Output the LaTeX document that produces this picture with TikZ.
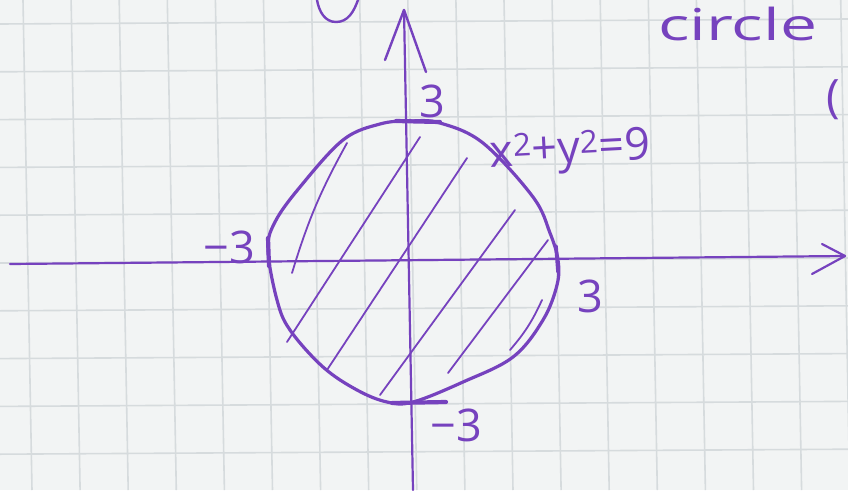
\documentclass[tikz,border=0pt]{standalone}
\usepackage{fontspec}
\setmainfont{Open Sans}
\definecolor{paper}{RGB}{242,244,244}
\definecolor{gridc}{RGB}{214,219,221}
\definecolor{penc}{RGB}{118,66,190}
\begin{document}
\begin{tikzpicture}[x=1pt,y=-1pt,
  pen/.style={draw=penc, line cap=round, line join=round},
  lbl/.style={text=penc, font=\fontsize{45}{45}\selectfont, inner sep=0pt}]
\useasboundingbox (0,0) rectangle (848,490);
\clip (0,0) rectangle (848,490);
\fill[paper] (0,0) rectangle (848,490);
% grid paper
\foreach \i in {0,...,17} {
  \draw[gridc, line width=1.6] ({23+48.1*\i},0) -- ({32+48.1*\i},490);
}
\foreach \j in {0,...,10} {
  \draw[gridc, line width=1.6] (0,{24+47.8*\j}) -- (848,{19+47.8*\j});
}
% axes
\coordinate (xl) at (10,264);
\coordinate (xr) at (845,256);
\coordinate (xa1) at (822,244);
\coordinate (xa2) at (812,274);
\coordinate (yb) at (413,490);
\coordinate (yt) at (404,10);
\coordinate (ya1) at (385,60);
\coordinate (ya2) at (426,72);
\draw[pen, line width=2.2] (xl) -- (xr);
\draw[pen, line width=2.2] (xa1) -- (xr) -- (xa2);
\draw[pen, line width=2.2] (yb) -- (yt);
\draw[pen, line width=2.4] (ya1) -- (yt) -- (ya2);
% partial letter at top
\coordinate (u1) at (317,0);
\coordinate (u2) at (336,22);
\coordinate (u3) at (358,0);
\draw[pen, line width=2.4] (u1) to[out=-80,in=180] (u2) to[out=0,in=-110] (u3);
% circle (hand drawn)
\draw[pen, line width=3.2] plot[smooth cycle, tension=0.6] coordinates {
  (410,121) (440,123) (483,143) (533,197) (550,233) (558,260) (557,285)
  (543,320) (513,357) (463,382) (413,402) (387,402) (357,390) (323,367)
  (290,330) (277,300) (268,250) (275,222) (300,187) (343,140) (380,124)};
% heavier marks at the intercepts
\draw[pen, line width=4.2] (396,121) -- (440,122);
\draw[pen, line width=4.2] (392,403) -- (446,402);
\draw[pen, line width=4.2] (268,238) -- (269,266);
\draw[pen, line width=3.6] (556,246) -- (558,272);
% hatching
\draw[pen, line width=1.8] (292,273) to[bend left=6] (347,143);
\draw[pen, line width=1.8] (287,342) -- (420,137);
\draw[pen, line width=1.8] (327,370) -- (467,158);
\draw[pen, line width=1.8] (380,395) -- (515,210);
\draw[pen, line width=1.8] (448,373) -- (548,240);
\draw[pen, line width=1.8] (542,300) to[bend left=8] (510,350);
% labels
\node[lbl] (ytop) at (432,101) {3};
\node[lbl, rotate=3] (eq) at (570,152) {x\textsuperscript{2}+y\textsuperscript{2}=9};
\node[lbl] (xneg) at (229,247) {−3};
\node[lbl] (xpos) at (590,296) {3};
\node[lbl] (yneg) at (456,425) {−3};
\node[lbl, anchor=base west, font=\fontsize{44}{44}\selectfont] (title) at (658,40) {\scalebox{1.5}[1]{circle}};
\node[lbl, font=\fontsize{46}{46}\selectfont] (paren) at (833,100) {(};
\end{tikzpicture}
\end{document}
